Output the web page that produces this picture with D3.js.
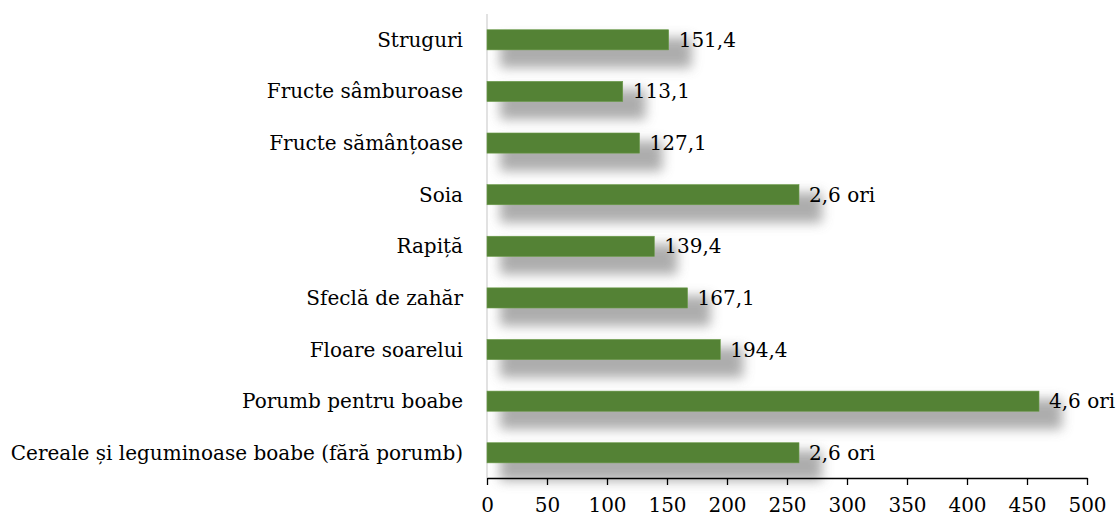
<!DOCTYPE html>
<html>
<head>
<meta charset="utf-8">
<script src="https://cdn.jsdelivr.net/npm/d3@7"></script>
<style>
  body { margin: 0; background: #fff; }
  text { font-family: "DejaVu Serif", serif; fill: #000; }
</style>
</head>
<body>
<div id="chart"></div>
<script>
// Categories, top to bottom as drawn
var categories = [
  "Struguri",
  "Fructe sâmburoase",
  "Fructe sămânțoase",
  "Soia",
  "Rapiță",
  "Sfeclă de zahăr",
  "Floare soarelui",
  "Porumb pentru boabe",
  "Cereale și leguminoase boabe (fără porumb)"
];
// Percent of the reference level (2,6 ori = 260, 4,6 ori = 460)
var values = [151.4, 113.1, 127.1, 260, 139.4, 167.1, 194.4, 460, 260];
var valueLabels = ["151,4", "113,1", "127,1", "2,6 ori", "139,4", "167,1", "194,4", "4,6 ori", "2,6 ori"];
var tickValues = [0, 50, 100, 150, 200, 250, 300, 350, 400, 450, 500];

var width = 1117;
var height = 519;
var margin = {top: 14, right: 30, bottom: 41, left: 487};
var fontSize = "20px";

var svg = d3.select("#chart").append("svg")
  .attr("width", width)
  .attr("height", height);

// Soft drop shadow like the office chart
svg.append("defs").append("filter")
  .attr("id", "blur")
  .attr("x", "-30%").attr("y", "-100%")
  .attr("width", "160%").attr("height", "300%")
  .append("feGaussianBlur")
  .attr("stdDeviation", 6);

var x = d3.scaleLinear()
  .domain([0, 500])
  .range([margin.left, 1087]);

var y = d3.scaleBand()
  .domain(categories)
  .range([margin.top, height - margin.bottom + 0.6])
  .paddingInner(0.61)
  .paddingOuter(0.305);

// Shadows go underneath all of the bars
svg.append("g").selectAll("rect")
  .data(categories)
  .enter().append("rect")
  .attr("x", x(0) + 13)
  .attr("y", d => y(d) + 8)
  .attr("width", (d, i) => x(values[i]) - x(0) + 10)
  .attr("height", y.bandwidth() + 10)
  .attr("fill", "#999")
  .attr("opacity", 0.8)
  .attr("filter", "url(#blur)");

// Vertical category axis line
svg.append("line")
  .attr("x1", x(0)).attr("x2", x(0))
  .attr("y1", margin.top).attr("y2", height - margin.bottom)
  .attr("stroke", "#d9d9d9")
  .attr("stroke-width", 1.5);

svg.append("g").selectAll("rect")
  .data(categories)
  .enter().append("rect")
  .attr("x", x(0))
  .attr("y", d => y(d))
  .attr("width", (d, i) => x(values[i]) - x(0))
  .attr("height", y.bandwidth())
  .attr("fill", "#548235")
  .attr("stroke", "#6a9a48")
  .attr("stroke-width", 0.6);

// Category labels
svg.append("g").selectAll("text")
  .data(categories)
  .enter().append("text")
  .attr("x", x(0) - 24)
  .attr("y", d => y(d) + y.bandwidth() / 2)
  .attr("dy", "0.35em")
  .attr("text-anchor", "end")
  .style("font-size", fontSize)
  .text(d => d);

// Value labels
svg.append("g").selectAll("text")
  .data(categories)
  .enter().append("text")
  .attr("x", (d, i) => x(values[i]) + 10)
  .attr("y", d => y(d) + y.bandwidth() / 2)
  .attr("dy", "0.35em")
  .style("font-size", fontSize)
  .text((d, i) => valueLabels[i]);

// X axis
var xAxis = svg.append("g")
  .attr("transform", "translate(0," + (height - margin.bottom) + ")")
  .call(d3.axisBottom(x).tickValues(tickValues).tickSize(7).tickSizeOuter(0).tickPadding(13));

xAxis.select(".domain").attr("stroke", "#000").attr("stroke-width", 1.3);
xAxis.selectAll(".tick line").attr("stroke", "#000").attr("stroke-width", 1.3);
xAxis.selectAll(".tick text")
  .style("font-family", "DejaVu Serif, serif")
  .style("font-size", fontSize)
  .attr("fill", "#000");
</script>
</body>
</html>
